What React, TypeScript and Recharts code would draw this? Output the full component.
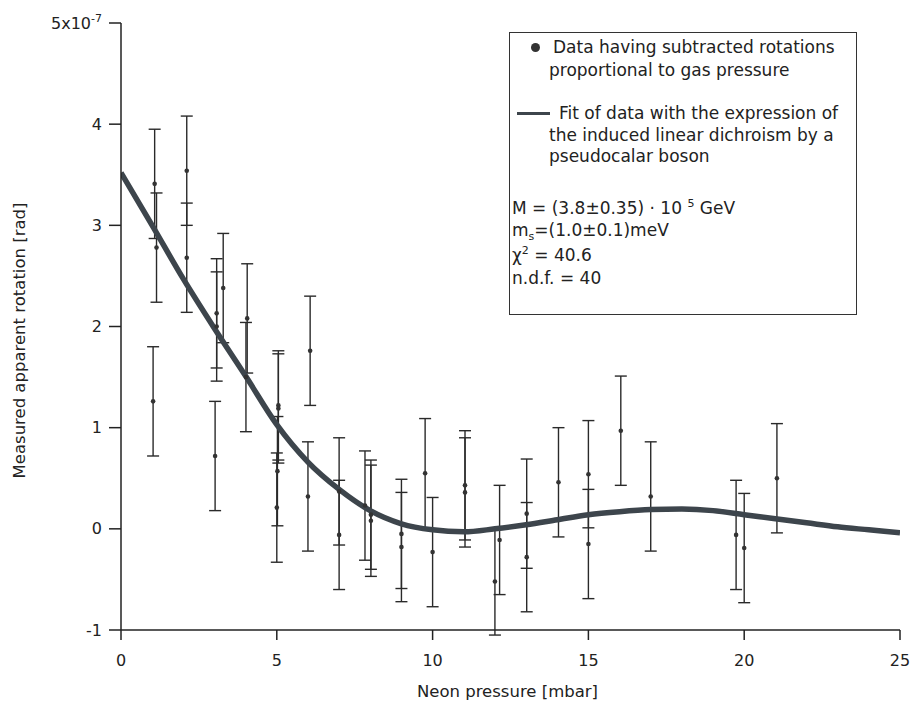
import React from 'react';
import { ComposedChart, Scatter, Line, XAxis, YAxis, ErrorBar, Legend, Label } from 'recharts';

// Measured data (units of 1e-7 rad)
const pressures = [
  1.08, 1.14, 1.03,
  2.11, 2.11,
  3.07, 3.07, 3.02, 3.28,
  4.05, 4.01,
  5.05, 5.05, 5.02, 5.0,
  6.07, 6.0,
  7.0, 7.0, 7.83, 8.02, 8.02,
  9.0, 9.0, 9.76, 10.0,
  11.04, 11.04, 12.0, 12.15,
  13.02, 13.02, 14.04,
  15.0, 15.0, 16.04, 17.0,
  19.74, 20.0, 21.05,
];
const rotations = [
  3.41, 2.78, 1.26,
  3.54, 2.68,
  2.13, 2.0, 0.72, 2.38,
  2.08, 1.5,
  1.22, 1.19, 0.57, 0.21,
  1.76, 0.32,
  0.37, -0.06, 0.23, 0.14, 0.08,
  -0.05, -0.18, 0.55, -0.23,
  0.43, 0.36, -0.52, -0.11,
  0.15, -0.28, 0.46,
  0.54, -0.15, 0.97, 0.32,
  -0.06, -0.19, 0.5,
];
const rotationErrors = [
  0.54, 0.54, 0.54,
  0.54, 0.54,
  0.54, 0.54, 0.54, 0.54,
  0.54, 0.54,
  0.54, 0.54, 0.54, 0.54,
  0.54, 0.54,
  0.53, 0.54, 0.54, 0.54, 0.55,
  0.54, 0.54, 0.54, 0.54,
  0.54, 0.54, 0.53, 0.54,
  0.54, 0.54, 0.54,
  0.53, 0.54, 0.54, 0.54,
  0.54, 0.54, 0.54,
];

// Fit curve
const fitPressures = [0, 1, 2, 3, 4, 5, 6, 7, 8, 9, 10, 11, 12, 13, 14, 15, 16, 17, 18, 19, 20, 21, 22, 23, 24, 25];
const fitRotations = [3.52, 3.0, 2.47, 1.98, 1.51, 1.03, 0.66, 0.39, 0.18, 0.05, -0.01, -0.03, 0.0, 0.04, 0.09, 0.14, 0.17, 0.19, 0.195, 0.18, 0.14, 0.1, 0.06, 0.02, -0.01, -0.04];

const xTicks = [0, 5, 10, 15, 20, 25];
const yTicks = [-1, 0, 1, 2, 3, 4, 5];

const points = pressures.map((x, i) => ({ x, y: rotations[i], err: rotationErrors[i] }));
const fit = fitPressures.map((x, i) => ({ x, y: fitRotations[i] }));

const FONT = '"DejaVu Sans", Verdana, sans-serif';
const INK = '#222';

const YTick = (props: any) => {
  const { x, y, payload } = props;
  if (payload.value === 5) {
    return (
      <text x={x} y={y} textAnchor="end" dy="0.35em" fontFamily={FONT} fontSize={16} fill={INK}>
        5x10<tspan dy={-7} fontSize={11}>-7</tspan>
      </text>
    );
  }
  return (
    <text x={x} y={y} textAnchor="end" dy="0.35em" fontFamily={FONT} fontSize={16} fill={INK}>
      {payload.value}
    </text>
  );
};

const Dot = (props: any) => {
  const { cx, cy } = props;
  return <circle cx={cx} cy={cy} r={2.3} fill="#333" />;
};

const line = (top: number, left: number, children: React.ReactNode, extra: any = {}) => (
  <div style={{ position: 'absolute', top, left, height: 22, lineHeight: '22px', whiteSpace: 'nowrap', ...extra }}>{children}</div>
);

const LegendBox = () => (
  <div
    style={{
      position: 'relative',
      width: 346,
      height: 281,
      border: '1.5px solid #333',
      background: '#fff',
      fontFamily: FONT,
      fontSize: 17,
      color: INK,
      textAlign: 'left',
    }}
  >
    <div style={{ position: 'absolute', top: 10, left: 21, width: 9, height: 9, borderRadius: '50%', background: '#333' }} />
    {line(3, 43, 'Data having subtracted rotations')}
    {line(26, 39, 'proportional to gas pressure')}
    <div style={{ position: 'absolute', top: 79, left: 7, width: 33, height: 3, background: '#3d454c' }} />
    {line(69, 49, 'Fit of data with the expression of')}
    {line(91, 39, 'the induced linear dichroism by a')}
    {line(112, 39, 'pseudocalar boson')}
    {line(164, 2, <span>M = (3.8±0.35) · 10 <sup style={{ fontSize: 11, verticalAlign: 'top', lineHeight: '14px' }}>5</sup> GeV</span>)}
    {line(186, 2, <span>m<sub style={{ fontSize: 11, lineHeight: 0 }}>s</sub>=(1.0±0.1)meV</span>)}
    {line(211, 2, <span>χ<sup style={{ fontSize: 11, lineHeight: 0 }}>2</sup> = 40.6</span>)}
    {line(234, 2, 'n.d.f. = 40')}
  </div>
);

export default function App() {
  return (
    <div style={{ position: 'absolute', left: 0, top: 0, background: '#fff' }}>
      <ComposedChart width={912} height={706} margin={{ top: 23, right: 12, bottom: 0, left: 8 }}>
        <XAxis
          dataKey="x"
          type="number"
          domain={[0, 25]}
          ticks={xTicks}
          allowDataOverflow
          axisLine={{ stroke: INK, strokeWidth: 1.5 }}
          tickLine={{ stroke: INK, strokeWidth: 1.5 }}
          tickSize={10}
          tickMargin={15}
          height={76}
          tick={{ fontFamily: FONT, fontSize: 16, fill: INK }}
        >
          <Label
            content={(p: any) => {
              const vb = p.viewBox;
              return (
                <text x={vb.x + vb.width / 2 - 3} y={vb.y + 67} textAnchor="middle" fontFamily={FONT} fontSize={16.5} fill={INK}>
                  Neon pressure [mbar]
                </text>
              );
            }}
          />
        </XAxis>
        <YAxis
          dataKey="y"
          type="number"
          domain={[-1, 5]}
          ticks={yTicks}
          allowDataOverflow
          width={113}
          axisLine={{ stroke: INK, strokeWidth: 1.5 }}
          tickLine={{ stroke: INK, strokeWidth: 1.5 }}
          tickSize={12}
          tickMargin={7}
          tick={<YTick />}
        >
          <Label
            content={(p: any) => {
              const vb = p.viewBox;
              const cx = vb.x + 11;
              const cy = vb.y + vb.height / 2 + 14;
              return (
                <text x={cx} y={cy} transform={`rotate(-90 ${cx} ${cy})`} textAnchor="middle" dominantBaseline="central" fontFamily={FONT} fontSize={16.5} fill={INK}>
                  Measured apparent rotation [rad]
                </text>
              );
            }}
          />
        </YAxis>
        <Legend
          layout="horizontal"
          verticalAlign="middle"
          align="center"
          wrapperStyle={{ left: 509, top: 32, width: 349, height: 284 }}
          content={() => <LegendBox />}
        />
        <Scatter data={points} dataKey="y" shape={<Dot />} isAnimationActive={false}>
          <ErrorBar dataKey="err" direction="y" width={6} stroke="#2a2a2a" strokeWidth={1.4} isAnimationActive={false} />
        </Scatter>
        <Line
          data={fit}
          dataKey="y"
          type="monotone"
          stroke="#3d454c"
          strokeWidth={5.5}
          dot={false}
          activeDot={false}
          isAnimationActive={false}
          legendType="none"
        />
      </ComposedChart>
    </div>
  );
}
